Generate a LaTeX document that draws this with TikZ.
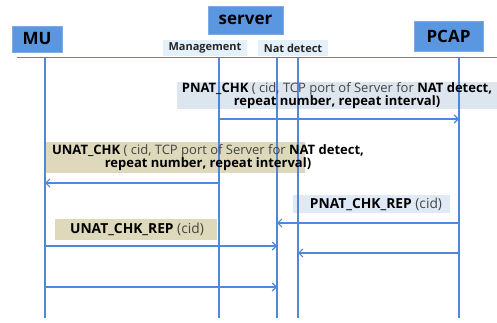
\documentclass[tikz,border=0pt]{standalone}
\usepackage{fontspec}
\setmainfont{Open Sans}
\usetikzlibrary{arrows.meta}
\definecolor{boxblue}{HTML}{5B96E0}
\definecolor{lineblue}{HTML}{4F88D8}
\definecolor{pbg}{HTML}{DDE5EF}
\definecolor{ubg}{HTML}{DDD9BA}
\definecolor{rbg}{HTML}{E0EAF6}
\definecolor{mbg}{HTML}{E4F1FA}
\definecolor{txtgray}{HTML}{454545}
\begin{document}
\begin{tikzpicture}[x=1pt,y=-1pt,
  actor/.style={fill=boxblue,draw=boxblue!80!white,line width=0.4pt,font=\fontsize{17}{19}\selectfont\bfseries,inner sep=0pt},
  sublbl/.style={fill=mbg,font=\fontsize{11}{12}\selectfont\bfseries,text=black!85,inner sep=0pt},
  lifeline/.style={draw=lineblue,line width=1.2pt},
  msg/.style={draw=lineblue,line width=1.2pt,-{Straight Barb[length=4pt,width=8pt,line width=1.2pt]}},
  lbl/.style={font=\fontsize{13}{13}\selectfont,text=txtgray,align=center,inner sep=0pt},
  replbl/.style={lbl,font=\fontsize{13.8}{14}\selectfont}
]
\useasboundingbox (0,0) rectangle (497,323);
% header
\node[actor,minimum width=50,minimum height=26] (mu) at (37,39) {MU};
\node[actor,minimum width=75,minimum height=28] (srv) at (245.5,20) {server};
\node[actor,minimum width=69,minimum height=30] (pcap) at (448.5,36) {PCAP};
\node[sublbl,minimum width=84,minimum height=16] (mgmt) at (205,48) {Management};
\node[sublbl,minimum width=70,minimum height=16] (nat) at (293,48) {Nat detect};
\coordinate (hl) at (17,57.5);
\coordinate (hr) at (497,57.5);
\draw[lifeline] (hl) -- (hr);
% lifeline coordinates
\foreach \n/\x in {a/45,b/219,c/277,d/298,e/459}{
  \coordinate (\n top) at (\x,57.5);
  \coordinate (\n bot) at (\x,318);
}
% label backgrounds
\fill[pbg] (177,82) rectangle (497,109);
\fill[ubg] (45,142) rectangle (305,173);
\fill[rbg] (293,195) rectangle (450,213);
\fill[ubg] (55,219) rectangle (217,240);
% lifelines
\foreach \n in {a,b,c,d,e}{\draw[lifeline] (\n top) -- (\n bot);}
% labels
\node[lbl] (l1) at (337,95.5) {\textbf{\color{black}PNAT\_CHK} ( cid, TCP port of Server for \textbf{\color{black}NAT detect,}\\ \textbf{\color{black}repeat number, repeat interval)}};
\node[lbl] (l2) at (208,157.5) {\textbf{\color{black}UNAT\_CHK} ( cid, TCP port of Server for \textbf{\color{black}NAT detect,}\\ \textbf{\color{black}repeat number, repeat interval)}};
\node[replbl] (l3) at (376,204) {\textbf{\color{black}PNAT\_CHK\_REP} (cid)};
\node[replbl] (l4) at (137,229.5) {\textbf{\color{black}UNAT\_CHK\_REP} (cid)};
% messages
\coordinate (m1s) at (219,119); \coordinate (m1e) at (459,119);
\coordinate (m2s) at (219,183); \coordinate (m2e) at (45,183);
\coordinate (m3s) at (459,223); \coordinate (m3e) at (277,223);
\coordinate (m4s) at (45,246); \coordinate (m4e) at (277,246);
\coordinate (m5s) at (459,253); \coordinate (m5e) at (298,253);
\coordinate (m6s) at (45,287); \coordinate (m6e) at (277,287);
\draw[msg] (m1s) -- (m1e);
\draw[msg] (m2s) -- (m2e);
\draw[msg] (m3s) -- (m3e);
\draw[msg] (m4s) -- (m4e);
\draw[msg] (m5s) -- (m5e);
\draw[msg] (m6s) -- (m6e);
\end{tikzpicture}
\end{document}
